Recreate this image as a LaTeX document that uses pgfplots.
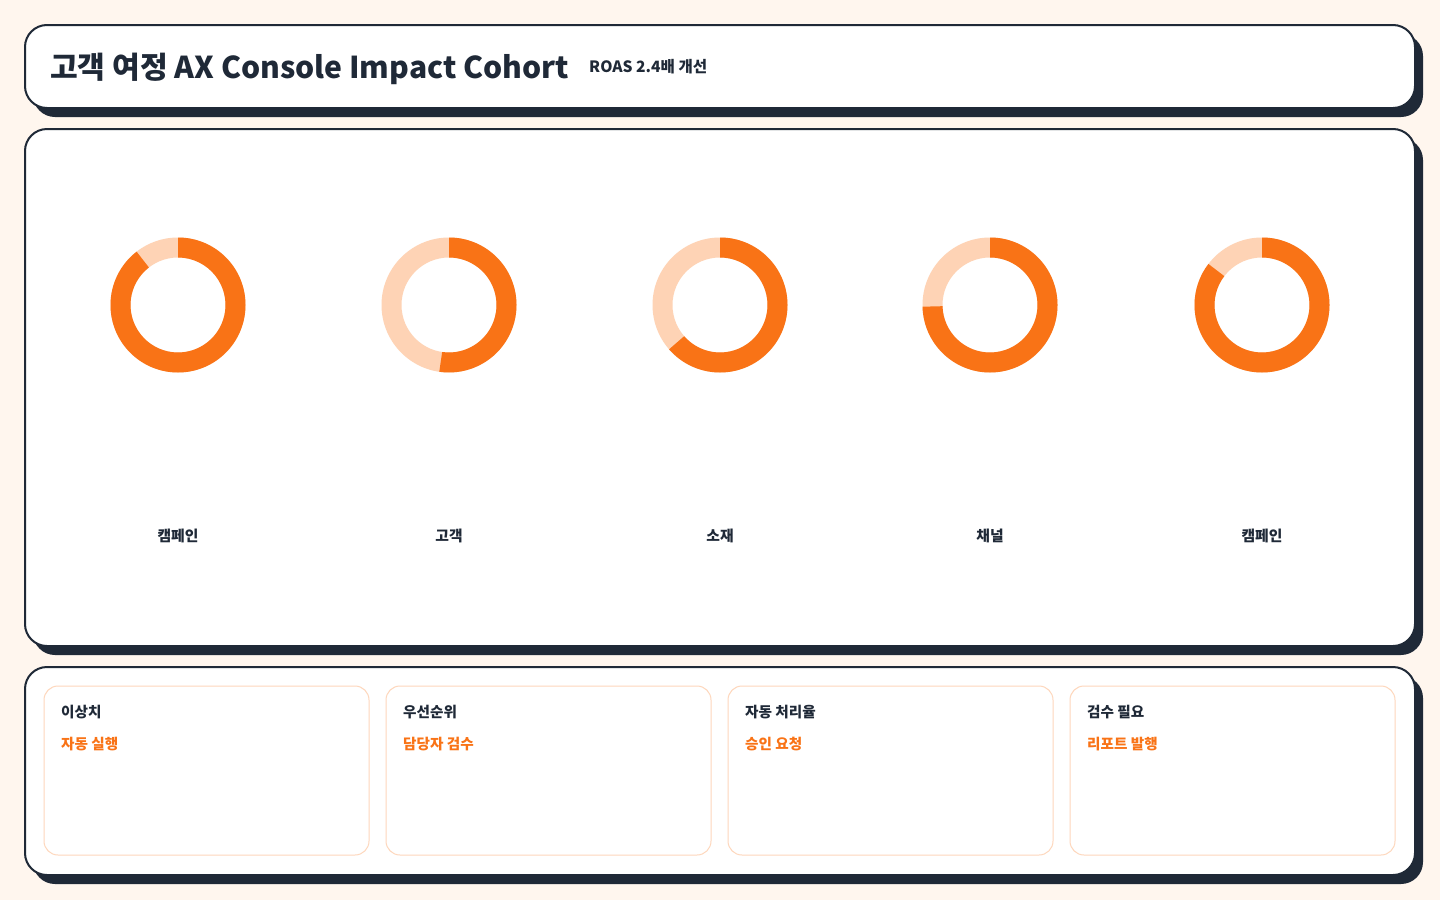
\documentclass[border=0pt]{standalone}
\usepackage{pgfplots}
\pgfplotsset{compat=1.18}
\usetikzlibrary{calc}
\usepackage{fontspec}
\setmainfont{Noto Sans CJK KR}
\definecolor{bg}{HTML}{FFF6EE}
\definecolor{navy}{HTML}{1F2937}
\definecolor{oc}{HTML}{F97316}
\definecolor{lc}{HTML}{FED3B5}
\definecolor{cardb}{HTML}{FED7BC}
% donut: center x (px), value (%), label
\newcommand{\donut}[3]{%
  \fill[lc, even odd rule] (axis cs:#1,-305) circle[radius=67.5pt] (axis cs:#1,-305) circle[radius=47.5pt];
  \fill[oc] ($(axis cs:#1,-305)+(90:67.5pt)$) arc[start angle=90, end angle={90-3.6*#2}, radius=67.5pt]
     -- ($(axis cs:#1,-305)+({90-3.6*#2}:47.5pt)$) arc[start angle={90-3.6*#2}, end angle=90, radius=47.5pt] -- cycle;
  \node[font=\fontsize{14.8}{17}\selectfont\bfseries, text=navy] at (axis cs:#1,-536) {#3};
}
\newcommand{\panel}[4]{%
  \fill[navy, rounded corners=22pt] (#1+8,#2-9) rectangle (#3+8,#4-9);
  \filldraw[fill=white, draw=navy, line width=2pt, rounded corners=22pt] (#1,#2) rectangle (#3,#4);
}
\newcommand{\card}[3]{%
  \draw[cardb, line width=1pt, rounded corners=14pt] (#1,-686) rectangle (#1+325,-855);
  \node[anchor=west, inner sep=0pt, font=\fontsize{14.6}{17}\selectfont\bfseries, text=navy] at (#1+17,-712) {#2};
  \node[anchor=west, inner sep=0pt, font=\fontsize{14.6}{17}\selectfont\bfseries, text=oc] at (#1+17,-744) {#3};
}
\begin{document}
\begin{tikzpicture}[x=1pt,y=1pt]
\useasboundingbox (0,0) rectangle (1440,-900);
\fill[bg] (0,0) rectangle (1440,-900);
\panel{25}{-25}{1415}{-108}
\panel{25}{-129}{1415}{-646}
\panel{25}{-667}{1415}{-875}
\node[anchor=base west, inner sep=0pt, font=\fontsize{30.1}{36}\selectfont\bfseries, text=navy] at (50,-78) {고객 여정 AX Console Impact Cohort};
\node[anchor=base west, inner sep=0pt, font=\fontsize{15.6}{18}\selectfont\bfseries, text=navy] at (589,-72) {ROAS 2.4배 개선};
\card{44}{이상치}{자동 실행}
\card{386}{우선순위}{담당자 검수}
\card{728}{자동 처리율}{승인 요청}
\card{1070}{검수 필요}{리포트 발행}
\begin{axis}[x=1pt, y=1pt, xmin=0, xmax=1440, ymin=-900, ymax=0,
  at={(0,0)}, anchor=origin, hide axis, clip=false, scale only axis]
\addplot[draw=none, forget plot] coordinates {(0,0)};
\donut{178}{89.5}{캠페인}
\donut{449}{52.3}{고객}
\donut{720}{63.6}{소재}
\donut{990}{74.6}{채널}
\donut{1262}{85.4}{캠페인}
\end{axis}
\end{tikzpicture}
\end{document}
